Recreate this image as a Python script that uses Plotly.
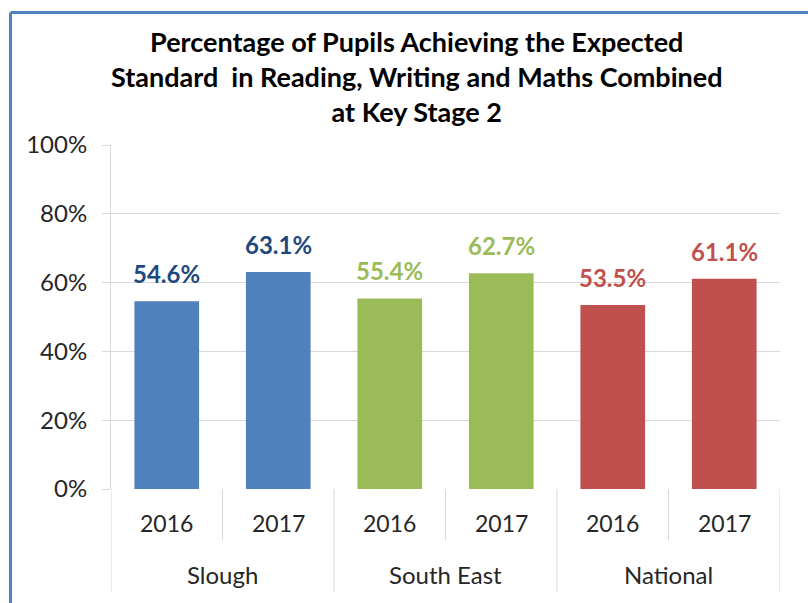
import plotly.graph_objects as go

# Chart data
groups = ["Slough", "South East", "National"]
years = ["2016", "2017"]
values = [54.6, 63.1, 55.4, 62.7, 53.5, 61.1]  # % of pupils
bar_colors = ["#4F81BD", "#4F81BD", "#9BBB59", "#9BBB59", "#C0504D", "#C0504D"]
label_colors = ["#1F497D", "#1F497D", "#9BBB59", "#9BBB59", "#C0504D", "#C0504D"]
y_ticks = [0, 20, 40, 60, 80, 100]

title_lines = [
    "Percentage of Pupils Achieving the Expected",
    "Standard  in Reading, Writing and Maths Combined",
    "at Key Stage 2",
]

FONT = "Lato"
TEXT = "#262626"
W, H = 808, 603
L, R, T, B = 111, 28, 145, 114
plot_w, plot_h = W - L - R, H - T - B

cats = [f"{g} {y}" for g in groups for y in years]

fig = go.Figure(
    go.Bar(
        x=cats,
        y=values,
        marker=dict(color=bar_colors, line=dict(width=0)),
        hoverinfo="skip",
    )
)

# Value labels above each bar
for c, v, col in zip(cats, values, label_colors):
    fig.add_annotation(
        x=c, y=v, xref="x", yref="y", text=f"{v:.1f}%",
        showarrow=False, yanchor="bottom", yshift=11,
        font=dict(family=FONT, size=24, color=col, weight="bold"),
    )

grid = "#D9D9D9"

def px_to_paper_y(dy):
    return dy / plot_h

# Year labels and dividers between years within a group
for i, c in enumerate(cats):
    fig.add_annotation(
        x=c, y=-px_to_paper_y(34), xref="x", yref="paper",
        text=years[i % 2], showarrow=False, yanchor="middle",
        font=dict(family=FONT, size=23, color=TEXT),
    )
for gi, g in enumerate(groups):
    fig.add_annotation(
        x=gi * 2 + 0.5, y=-px_to_paper_y(85), xref="x", yref="paper",
        text=g, showarrow=False, yanchor="middle",
        font=dict(family=FONT, size=24, color=TEXT),
    )
    fig.add_shape(
        type="line", xref="x", yref="paper",
        x0=gi * 2 + 0.5, x1=gi * 2 + 0.5, y0=0, y1=-px_to_paper_y(51),
        line=dict(color=grid, width=1),
    )
for k in range(len(groups) + 1):
    xb = k * 2 - 0.5
    fig.add_shape(
        type="line", xref="x", yref="paper",
        x0=xb, x1=xb, y0=0, y1=-px_to_paper_y(103),
        line=dict(color=grid, width=1),
    )

# Chart title (three centred lines)
fig.add_annotation(
    x=(416 - L) / plot_w, y=(T + plot_h - 76.5) / plot_h,
    xref="paper", yref="paper", xanchor="center", yanchor="middle",
    text="<br>".join(title_lines), showarrow=False, align="center",
    font=dict(family=FONT, size=27, color="#000000", weight="bold"),
)

# Chart-area border (top and left edges visible)
border = "#4F81BD"
bx = (10.5 - L) / plot_w
by = (T + plot_h - 12.5) / plot_h
fig.add_shape(type="line", xref="paper", yref="paper",
              x0=bx, x1=(W + 5 - L) / plot_w, y0=by, y1=by,
              line=dict(color=border, width=3))
fig.add_shape(type="line", xref="paper", yref="paper",
              x0=bx, x1=bx, y0=by, y1=-(B + 5) / plot_h,
              line=dict(color=border, width=3))

fig.update_layout(
    width=W, height=H,
    margin=dict(l=L, r=R, t=T, b=B),
    paper_bgcolor="white", plot_bgcolor="white",
    showlegend=False,
    bargap=0.42,
    xaxis=dict(
        showticklabels=False, showgrid=False, ticks="",
        showline=False, fixedrange=True, range=[-0.5, 5.5],
    ),
    yaxis=dict(
        range=[0, 100], tickvals=y_ticks,
        ticktext=[f"{t}%" for t in y_ticks],
        showgrid=True, gridcolor=grid, gridwidth=1,
        showline=True, linecolor=grid, linewidth=1,
        ticks="outside", ticklen=8, tickcolor=grid,
        ticklabelstandoff=10,
        tickfont=dict(family=FONT, size=24, color=TEXT),
        zeroline=False, fixedrange=True,
    ),
)

fig.write_html("out.html")
